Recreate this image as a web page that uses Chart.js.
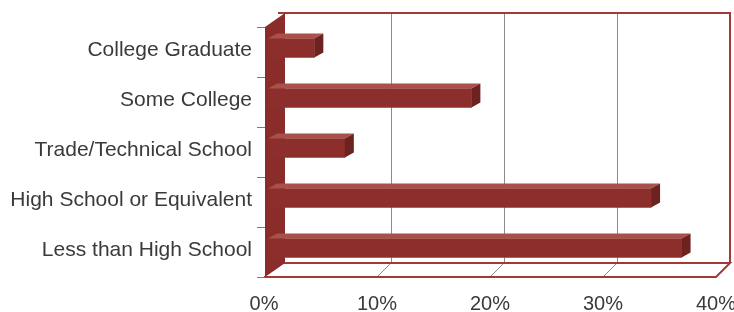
<!DOCTYPE html>
<html>
<head>
<meta charset="utf-8">
<script src="https://cdn.jsdelivr.net/npm/chart.js@4.4.1/dist/chart.umd.min.js"></script>
<style>
  html, body { margin: 0; padding: 0; background: #ffffff; }
  #wrap { width: 734px; height: 312px; position: relative; }
</style>
</head>
<body>
<div id="wrap"><canvas id="c" width="734" height="312"></canvas></div>
<script>
const categories = ["College Graduate", "Some College", "Trade/Technical School", "High School or Equivalent", "Less than High School"];
const shares = [4.1, 18.0, 6.8, 33.9, 36.6];
const tickValues = [0, 10, 20, 30, 40];

const FRONT = '#8c2f2c', TOP = '#a9504a', SIDE = '#6c221f', WALL = '#8a2c29', EDGE = '#a33a35';
const BDX = 9, BDY = 5;           // bar depth
const FX = -4, FY = 4;            // front plane offset from bar plane
const BX = 10, BY = -10;          // back plane offset from bar plane

const scene3d = {
  id: 'scene3d',
  beforeDatasetsDraw(chart) {
    const ctx = chart.ctx, xs = chart.scales.x, a = chart.chartArea;
    const xf = v => xs.getPixelForValue(v) + FX;
    const xb = v => xs.getPixelForValue(v) + BX;
    const yTopB = a.top + BY, yBotB = a.bottom + BY, yBotF = a.bottom + FY, yTopF = a.top + FY;
    ctx.save();
    ctx.strokeStyle = '#8a8a8a'; ctx.lineWidth = 1;
    tickValues.slice(1, -1).forEach(v => {
      const px = Math.round(xb(v)) + 0.5;
      ctx.beginPath(); ctx.moveTo(px, yTopB); ctx.lineTo(px, yBotB); ctx.stroke();
    });
    tickValues.slice(1, -1).forEach(v => {
      ctx.beginPath(); ctx.moveTo(xf(v), yBotF); ctx.lineTo(xb(v), yBotB); ctx.stroke();
    });
    ctx.strokeStyle = EDGE; ctx.lineWidth = 2;
    ctx.beginPath(); ctx.moveTo(xb(0), yTopB); ctx.lineTo(xb(40), yTopB); ctx.lineTo(xb(40), yBotB); ctx.stroke();
    ctx.beginPath();
    ctx.moveTo(xf(0), yBotF); ctx.lineTo(xf(40), yBotF); ctx.lineTo(xb(40), yBotB); ctx.lineTo(xb(0), yBotB);
    ctx.stroke();
    const wf = xs.getPixelForValue(0) - 3, wb = xs.getPixelForValue(0) + 17;
    ctx.fillStyle = WALL;
    ctx.beginPath();
    ctx.moveTo(wf, yTopF); ctx.lineTo(wb, yTopB); ctx.lineTo(wb, yBotB); ctx.lineTo(wf, yBotF); ctx.closePath();
    ctx.fill();
    ctx.strokeStyle = '#7a7a7a'; ctx.lineWidth = 1;
    const n = categories.length;
    for (let i = 0; i <= n; i++) {
      const y = Math.round(a.top + (a.bottom - a.top) * i / n + FY) + 0.5;
      ctx.beginPath(); ctx.moveTo(wf - 8, y); ctx.lineTo(wf, y); ctx.stroke();
    }
    ctx.restore();
  },
  afterDatasetsDraw(chart) {
    const ctx = chart.ctx;
    const meta = chart.getDatasetMeta(0);
    ctx.save();
    meta.data.forEach(el => {
      const x0 = el.base, x1 = el.x, yT = el.y - el.height / 2, yB = el.y + el.height / 2;
      ctx.fillStyle = TOP;
      ctx.beginPath();
      ctx.moveTo(x0, yT); ctx.lineTo(x0 + BDX, yT - BDY); ctx.lineTo(x1 + BDX, yT - BDY); ctx.lineTo(x1, yT); ctx.closePath();
      ctx.fill();
      ctx.fillStyle = SIDE;
      ctx.beginPath();
      ctx.moveTo(x1, yT); ctx.lineTo(x1 + BDX, yT - BDY); ctx.lineTo(x1 + BDX, yB - BDY); ctx.lineTo(x1, yB); ctx.closePath();
      ctx.fill();
    });
    ctx.restore();
  }
};

new Chart(document.getElementById('c'), {
  type: 'bar',
  data: {
    labels: categories,
    datasets: [{
      data: shares,
      backgroundColor: FRONT,
      borderWidth: 0,
      barThickness: 19
    }]
  },
  options: {
    indexAxis: 'y',
    responsive: false,
    animation: false,
    layout: { padding: { top: 23, right: 14, left: 0, bottom: 0 } },
    plugins: { legend: { display: false }, tooltip: { enabled: false } },
    scales: {
      x: {
        min: 0, max: 40,
        afterBuildTicks: s => { s.ticks = tickValues.map(v => ({ value: v })); },
        afterFit: s => { s.height = 39; s.paddingLeft = 0; s.paddingRight = 0; },
        grid: { display: false, drawTicks: false },
        border: { display: false },
        ticks: {
          padding: 19,
          labelOffset: FX,
          color: '#3a3a3a',
          font: { family: 'Liberation Sans', size: 20 },
          maxRotation: 0,
          autoSkip: false,
          callback: v => v + '%'
        }
      },
      y: {
        afterFit: s => { s.width = 268; s.paddingTop = 0; s.paddingBottom = 0; },
        grid: { display: false, drawTicks: false },
        border: { display: false },
        ticks: {
          padding: 16,
          labelOffset: 2,
          color: '#3a3a3a',
          font: { family: 'Liberation Sans', size: 21 }
        }
      }
    }
  },
  plugins: [scene3d]
});
</script>
</body>
</html>
